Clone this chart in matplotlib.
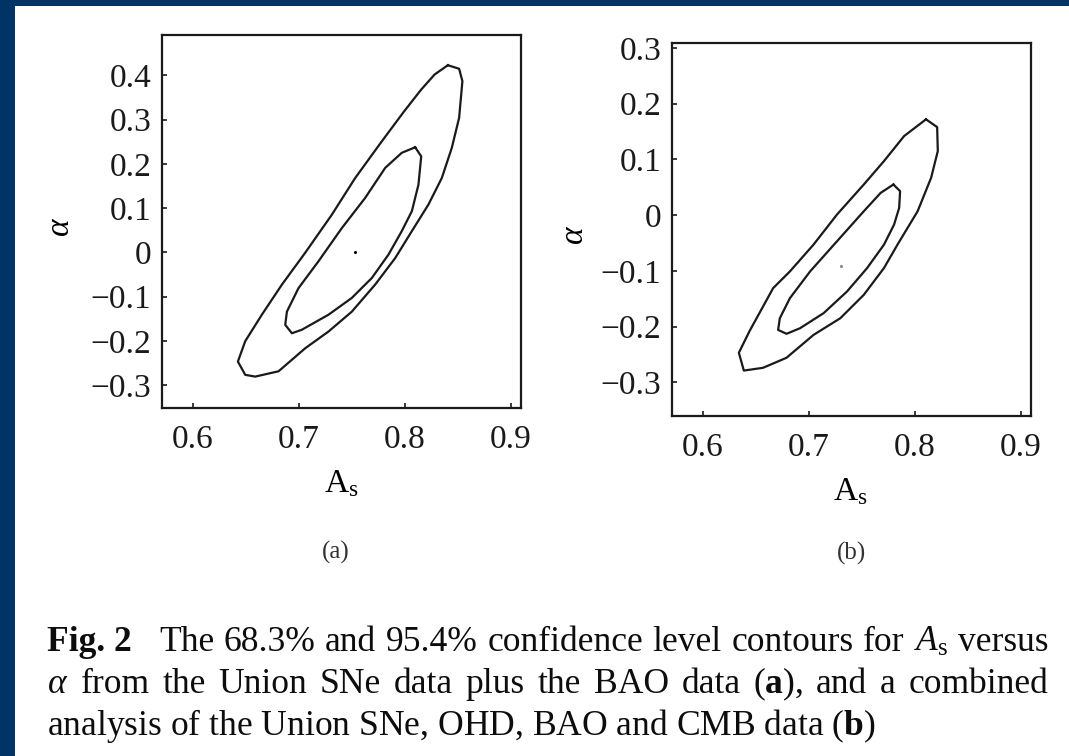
import matplotlib
matplotlib.use("Agg")
import matplotlib.pyplot as plt
import numpy as np
from matplotlib.patches import Rectangle
from matplotlib.ticker import FixedLocator, FixedFormatter

plt.rcParams["font.family"] = ["Liberation Serif", "DejaVu Serif"]
plt.rcParams["mathtext.fontset"] = "custom"
plt.rcParams["mathtext.rm"] = "Liberation Serif"
plt.rcParams["mathtext.it"] = "Liberation Serif:italic"
plt.rcParams["mathtext.bf"] = "Liberation Serif:bold"

# values
x_ticks = [0.6, 0.7, 0.8, 0.9]
x_tick_labels = ["0.6", "0.7", "0.8", "0.9"]
y_ticks_a = [-0.3, -0.2, -0.1, 0.0, 0.1, 0.2, 0.3, 0.4]
y_tick_labels_a = ["\u22120.3", "\u22120.2", "\u22120.1", "0", "0.1", "0.2", "0.3", "0.4"]
y_ticks_b = [-0.3, -0.2, -0.1, 0.0, 0.1, 0.2, 0.3]
y_tick_labels_b = ["\u22120.3", "\u22120.2", "\u22120.1", "0", "0.1", "0.2", "0.3"]

# panel (a): Union SNe + BAO, 95.4% (outer) and 68.3% (inner) contours
outer_a_x = [0.8405, 0.8511, 0.8542, 0.8511, 0.8442, 0.8348, 0.8222, 0.8066, 0.7909,
             0.7720, 0.7501, 0.7281, 0.7061, 0.6810, 0.6590, 0.6496, 0.6427, 0.6496,
             0.6653, 0.6842, 0.7061, 0.7312, 0.7532, 0.7783, 0.7994, 0.8154, 0.8280]
outer_a_y = [0.423, 0.415, 0.387, 0.304, 0.236, 0.168, 0.108, 0.048, -0.013,
             -0.073, -0.134, -0.179, -0.217, -0.269, -0.281, -0.277, -0.247, -0.201,
             -0.141, -0.073, -0.001, 0.085, 0.168, 0.251, 0.319, 0.368, 0.402]
inner_a_x = [0.8097, 0.8154, 0.8128, 0.8066, 0.7971, 0.7846, 0.7689, 0.7501, 0.7281,
             0.7030, 0.6936, 0.6873, 0.6889, 0.6998, 0.7187, 0.7407, 0.7626, 0.7815, 0.7971]
inner_a_y = [0.2375, 0.217, 0.153, 0.093, 0.048, -0.005, -0.058, -0.103, -0.141,
             -0.175, -0.183, -0.164, -0.134, -0.081, -0.020, 0.055, 0.123, 0.191, 0.225]
best_a = (0.753, 0.0)

# panel (b): Union SNe + OHD + BAO + CMB
outer_b_x = [0.8105, 0.8210, 0.8216, 0.8153, 0.8026, 0.7836, 0.7709, 0.7519, 0.7298,
             0.7045, 0.6791, 0.6570, 0.6389, 0.6342, 0.6443, 0.6665, 0.6823, 0.7045,
             0.7266, 0.7519, 0.7709, 0.7899]
outer_b_y = [0.172, 0.158, 0.115, 0.067, 0.007, -0.053, -0.095, -0.143, -0.185,
             -0.215, -0.256, -0.274, -0.279, -0.247, -0.208, -0.131, -0.101, -0.053,
             0.001, 0.055, 0.097, 0.142]
inner_b_x = [0.7798, 0.7861, 0.7852, 0.7804, 0.7709, 0.7550, 0.7361, 0.7140, 0.6918,
             0.6791, 0.6712, 0.6728, 0.6823, 0.7013, 0.7266, 0.7519, 0.7678]
inner_b_y = [0.055, 0.043, 0.013, -0.017, -0.053, -0.095, -0.137, -0.176, -0.203,
             -0.213, -0.206, -0.185, -0.149, -0.101, -0.047, 0.007, 0.040]
best_b = (0.730, -0.092)

W, H = 1069, 756
fig = plt.figure(figsize=(W / 100, H / 100), dpi=100, facecolor="#003366")
fig.add_artist(Rectangle((15 / W, 0), 1, 750 / H, transform=fig.transFigure,
                         facecolor="white", edgecolor="none", zorder=-10))


def px_axes(left, top, right, bottom):
    return [left / W, 1 - bottom / H, (right - left) / W, (bottom - top) / H]


panels = [
    dict(rect=px_axes(162.3, 34.7, 521, 408), ylim=(-0.352, 0.492),
         yticks=y_ticks_a, ylabels=y_tick_labels_a,
         outer=(outer_a_x, outer_a_y), inner=(inner_a_x, inner_a_y),
         best=best_a, best_color="black",
         alpha_x=-0.285, xlab=(0.498, -0.225), tag="(a)", tag_xy=(336, 552)),
    dict(rect=px_axes(672.3, 43, 1031, 415.7), ylim=(-0.36, 0.309),
         yticks=y_ticks_b, ylabels=y_tick_labels_b,
         outer=(outer_b_x, outer_b_y), inner=(inner_b_x, inner_b_y),
         best=best_b, best_color="#888888",
         alpha_x=-0.275, xlab=(0.495, -0.226), tag="(b)", tag_xy=(851, 553)),
]

for p in panels:
    ax = fig.add_axes(p["rect"])
    for xs, ys in (p["outer"], p["inner"]):
        ax.plot(np.append(xs, xs[0]), np.append(ys, ys[0]), color="#1a1a1a", lw=1.6)
    ax.plot(*p["best"], marker="o", ms=2.2, color=p["best_color"], mew=0)
    ax.set_xlim(0.5715, 0.9094)
    ax.set_ylim(*p["ylim"])
    ax.xaxis.set_major_locator(FixedLocator(x_ticks))
    ax.xaxis.set_major_formatter(FixedFormatter(x_tick_labels))
    ax.yaxis.set_major_locator(FixedLocator(p["yticks"]))
    ax.yaxis.set_major_formatter(FixedFormatter(p["ylabels"]))
    ax.tick_params(direction="in", length=3.5, width=1.2, labelsize=24,
                   top=False, right=False, colors="#1a1a1a")
    ax.tick_params(axis="x", pad=12)
    ax.tick_params(axis="y", pad=8)
    for s in ax.spines.values():
        s.set_linewidth(1.6)
        s.set_color("#1a1a1a")
    ax.set_ylabel("\u03b1", fontsize=24, style="italic", va="center")
    ax.yaxis.set_label_coords(p["alpha_x"], 0.487)
    ax.set_xlabel(r"$\mathrm{A}_\mathrm{s}$", fontsize=24, va="baseline")
    ax.xaxis.set_label_coords(*p["xlab"])
    fig.text(p["tag_xy"][0] / W, 1 - p["tag_xy"][1] / H, p["tag"], fontsize=18,
             color="#333333", ha="center", va="center")

# caption, first two lines justified between x0 and x1
cap_fs = 25.6
x0, x1 = 47, 1048
lines = [
    [("Fig. 2", "bold"), ("The", "normal"), ("68.3%", "normal"), ("and", "normal"),
     ("95.4%", "normal"), ("confidence", "normal"), ("level", "normal"),
     ("contours", "normal"), ("for", "normal"), (r"$A_\mathrm{s}$", "normal"),
     ("versus", "normal")],
    [(r"$\alpha$", "normal"), ("from", "normal"), ("the", "normal"), ("Union", "normal"),
     ("SNe", "normal"), ("data", "normal"), ("plus", "normal"), ("the", "normal"),
     ("BAO", "normal"), ("data", "normal"), (r"($\mathbf{a}$),", "normal"),
     ("and", "normal"), ("a", "normal"), ("combined", "normal")],
]
baselines = [651, 693, 735]
renderer = fig.canvas.get_renderer()
for words, yb in zip(lines, baselines):
    texts = [fig.text(0, 1 - yb / H, w, fontsize=cap_fs, weight=wt, va="baseline",
                      color="#0d0d0d") for w, wt in words]
    widths = [t.get_window_extent(renderer).width for t in texts]
    extra = 18 if words[0][1] == "bold" else 0
    gap = (x1 - x0 - sum(widths) - extra) / (len(texts) - 1)
    x = x0
    for i, (t, w) in enumerate(zip(texts, widths)):
        t.set_x(x / W)
        x += w + gap + (extra if i == 0 else 0)

fig.text(x0 / W, 1 - baselines[2] / H,
         r"analysis of the Union SNe, OHD, BAO and CMB data ($\mathbf{b}$)",
         fontsize=cap_fs, va="baseline", color="#0d0d0d")

fig.savefig("out.png", dpi=100, facecolor=fig.get_facecolor())
